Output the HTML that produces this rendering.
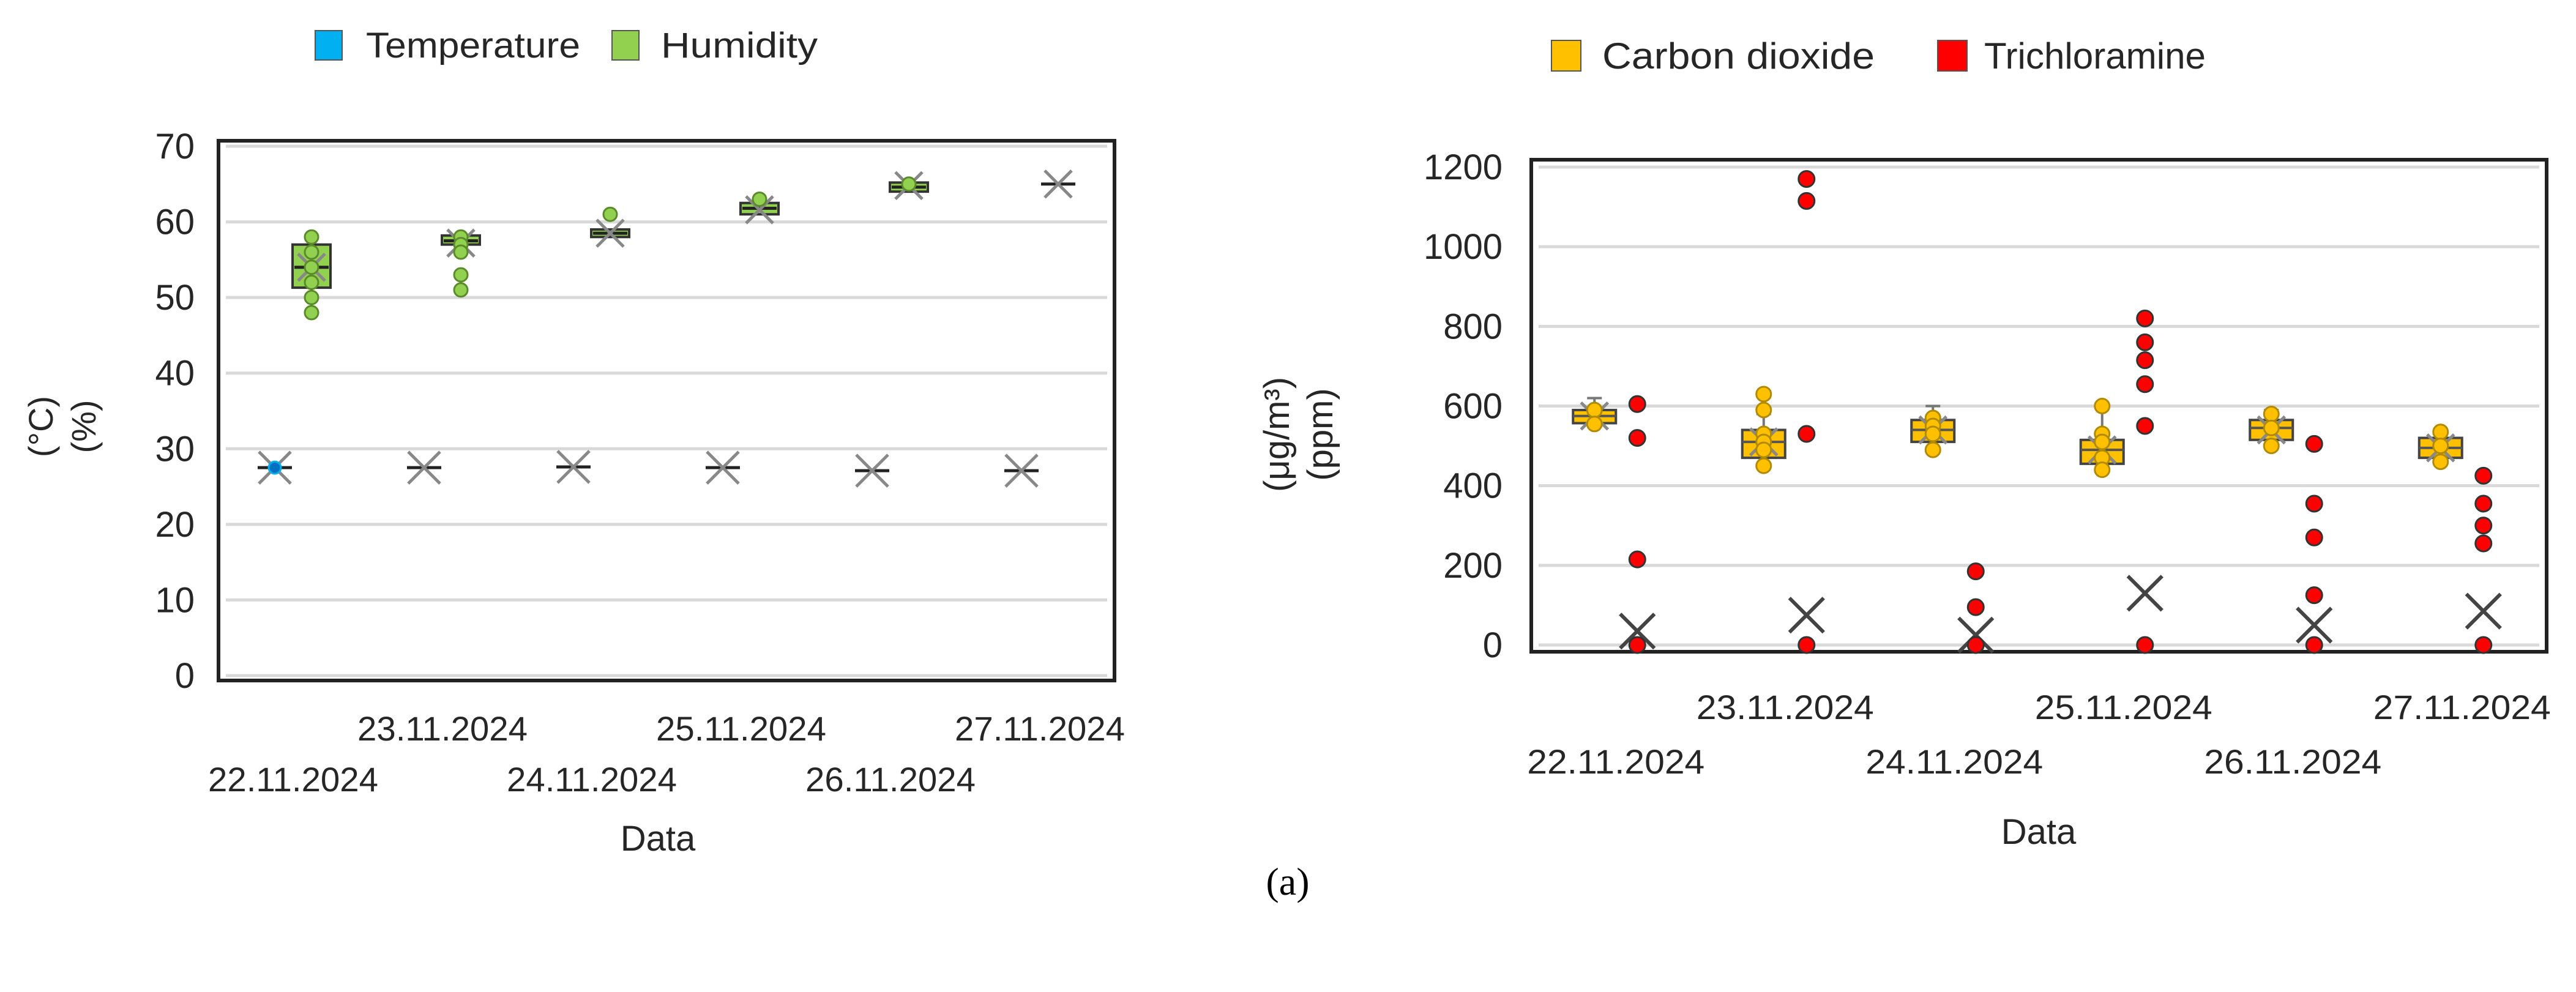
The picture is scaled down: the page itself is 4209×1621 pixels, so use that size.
<!DOCTYPE html>
<html><head><meta charset="utf-8"><style>
html,body{margin:0;padding:0;background:#fff}
svg{display:block}
text{font-family:"Liberation Sans",sans-serif;fill:#262626}
</style></head><body>
<svg id="fig" width="4209" height="1621" viewBox="0 0 4209 1621" xmlns="http://www.w3.org/2000/svg">
<g>
<rect x="515" y="50" width="44" height="48" fill="#00B0F0" stroke="#555" stroke-width="2"/>
<text x="598" y="94" font-size="58" textLength="350" lengthAdjust="spacingAndGlyphs">Temperature</text>
<rect x="1000" y="50" width="44" height="48" fill="#92D050" stroke="#555" stroke-width="2"/>
<text x="1080" y="94" font-size="58" textLength="256" lengthAdjust="spacingAndGlyphs">Humidity</text>
</g>
<g>
<rect x="2535" y="66" width="48" height="50" fill="#FFC000" stroke="#555" stroke-width="2"/>
<text x="2618" y="112" font-size="60" textLength="445" lengthAdjust="spacingAndGlyphs">Carbon dioxide</text>
<rect x="3166" y="66" width="48" height="50" fill="#FF0000" stroke="#555" stroke-width="2"/>
<text x="3242" y="112" font-size="60" textLength="362" lengthAdjust="spacingAndGlyphs">Trichloramine</text>
</g>
<text transform="translate(86,697) rotate(-90)" text-anchor="middle" font-size="56">(°C)</text>
<text transform="translate(156,697) rotate(-90)" text-anchor="middle" font-size="56">(%)</text>
<text transform="translate(2106,710) rotate(-90)" text-anchor="middle" font-size="58">(μg/m³)</text>
<text transform="translate(2177,710) rotate(-90)" text-anchor="middle" font-size="58">(ppm)</text>
<text x="1075" y="1390" text-anchor="middle" font-size="58">Data</text>
<text x="3331" y="1379" text-anchor="middle" font-size="58">Data</text>
<text x="2104" y="1462" text-anchor="middle" font-size="64" style="font-family:'Liberation Serif',serif;fill:#000">(a)</text>
</svg>
<script>
// ---- data ----
const dates = ["22.11.2024","23.11.2024","24.11.2024","25.11.2024","26.11.2024","27.11.2024"];
const leftTicks = [0,10,20,30,40,50,60,70];
const rightTicks = [0,200,400,600,800,1000,1200];
const tempMean = [27.5,27.5,27.6,27.5,27.1,27.1];
const tempPoints = [[27.5],[],[],[],[],[]];
const humQ1 = [51.3,57,58,61,64,65];
const humMed = [54,57.5,58.5,61.8,64.6,65];
const humQ3 = [57,58.2,59,62.5,65.2,65];
const humMin = [48,57,58,61,64,65];
const humMax = [58,58.2,59,62.5,65.2,65];
const humMean = [54,57.2,58.5,61.6,64.8,65];
const humPoints = [[58,56,54,52,50,48],[58,57,56,53,51],[61],[63],[65],[]];
const co2Q1 = [557,470,510,455,515,470];
const co2Med = [575,510,540,490,545,495];
const co2Q3 = [590,540,565,515,565,520];
const co2Min = [545,450,490,440,495,460];
const co2Max = [620,580,600,600,590,540];
const co2Mean = [575,510,540,490,540,495];
const co2Points = [[590,555],[630,590,530,510,490,450],[570,550,530,490],[600,530,510,470,440],[580,545,500],[535,500,460]];
const tcaMean = [35,75,25,130,50,85];
const tcaPoints = [[605,520,215,0],[1170,1115,530,0],[185,95,0],[820,760,715,655,550,0],[505,355,270,125,0],[425,355,300,255,0]];

const NS = "http://www.w3.org/2000/svg";
const svg = document.getElementById('fig');
function mk(tag, attrs, parent){const e=document.createElementNS(NS,tag);for(const k in attrs)e.setAttribute(k,attrs[k]);(parent||svg).appendChild(e);return e;}

function panel(cfg){
  const {x0,x1,y0,y1,vmin,vmax,gTop,gBot,ticks,name,labelRight,row1,row2,fs,lw} = cfg;
  const ys = v => gBot - (v - vmin)/(vmax - vmin)*(gBot - gTop);
  const slot = (x1-x0)/dates.length;
  const xs = i => x0 + slot*(i+0.5);
  const g = mk('g',{});
  
  
  ticks.forEach(t=>{
    const l = mk('line',{x1:x0+12,x2:x1-12,y1:ys(t),y2:ys(t),stroke:'#d9d9d9','stroke-width':5},g);
    
    
    const tx = mk('text',{x:labelRight,y:ys(t)+20,'text-anchor':'end','font-size':fs},g);
    tx.textContent = t;
    
    
  });
  const fr = mk('rect',{x:x0,y:y0,width:x1-x0,height:y1-y0,fill:'none',stroke:'#222','stroke-width':6},g);
  
  
  dates.forEach((d,i)=>{
    const tx = mk('text',{x:xs(i),y:i%2===0?row2:row1,'text-anchor':'middle','font-size':56,textLength:lw,lengthAdjust:'spacingAndGlyphs'},g);
    tx.textContent = d;
    
    
  });
  return {g,ys,xs};
}
function xMark(g,cx,cy,s,name,bold){
  const m = mk('g',{},g);
  
  
  const c = bold?'#444':'#888';
  mk('line',{x1:cx-s,y1:cy-s,x2:cx+s,y2:cy+s,stroke:c,'stroke-width':bold?6:5},m);
  mk('line',{x1:cx-s,y1:cy+s,x2:cx+s,y2:cy-s,stroke:c,'stroke-width':bold?6:5},m);
}
// ---- left panel ----
const L = panel({x0:357,x1:1821,y0:230,y1:1112,vmin:0,vmax:70,gTop:239,gBot:1104,ticks:leftTicks,name:'left',labelRight:318,row1:1210,row2:1293,fs:58,lw:278});
dates.forEach((d,i)=>{
  const cx = L.xs(i)-30;
  const grp = mk('g',{},L.g);
  
  
  mk('line',{x1:cx-28,x2:cx+28,y1:L.ys(tempMean[i]),y2:L.ys(tempMean[i]),stroke:'#222','stroke-width':5},grp);
  xMark(grp,cx,L.ys(tempMean[i]),26,'temperature-mean-'+(i+1),false);
  tempPoints[i].forEach(v=>{
    const c = mk('circle',{cx:cx,cy:L.ys(v),r:10,fill:'#0070C0',stroke:'#00B0F0','stroke-width':3},grp);
    
    
  });
});
dates.forEach((d,i)=>{
  const cx = L.xs(i)+30;
  const grp = mk('g',{},L.g);
  
  
  if(humMax[i]>humMin[i]) mk('line',{x1:cx,x2:cx,y1:L.ys(humMax[i]),y2:L.ys(humMin[i]),stroke:'#555','stroke-width':4},grp);
  if(humQ3[i]>humQ1[i]) mk('rect',{x:cx-31,y:L.ys(humQ3[i]),width:62,height:L.ys(humQ1[i])-L.ys(humQ3[i]),fill:'#92D050',stroke:'#333','stroke-width':4},grp);
  mk('line',{x1:cx-28,x2:cx+28,y1:L.ys(humMed[i]),y2:L.ys(humMed[i]),stroke:'#222','stroke-width':5},grp);
  xMark(grp,cx,L.ys(humMean[i]),22,'humidity-mean-'+(i+1),false);
  humPoints[i].forEach(v=>{
    const c = mk('circle',{cx:cx,cy:L.ys(v),r:11,fill:'#92D050',stroke:'#5a8a2a','stroke-width':3},grp);
    
    
  });
});
// ---- right panel ----
const R = panel({x0:2502,x1:4161,y0:261,y1:1065,vmin:0,vmax:1200,gTop:273,gBot:1054,ticks:rightTicks,name:'right',labelRight:2455,row1:1175,row2:1264,fs:58,lw:290});
dates.forEach((d,i)=>{
  const cx = R.xs(i)-35;
  const grp = mk('g',{},R.g);
  
  
  mk('line',{x1:cx,x2:cx,y1:R.ys(co2Max[i]),y2:R.ys(co2Min[i]),stroke:'#777','stroke-width':4},grp);
  mk('line',{x1:cx-12,x2:cx+12,y1:R.ys(co2Max[i]),y2:R.ys(co2Max[i]),stroke:'#777','stroke-width':4},grp);
  mk('rect',{x:cx-35,y:R.ys(co2Q3[i]),width:70,height:R.ys(co2Q1[i])-R.ys(co2Q3[i]),fill:'#FFC000',stroke:'#444','stroke-width':4},grp);
  mk('line',{x1:cx-35,x2:cx+35,y1:R.ys(co2Med[i]),y2:R.ys(co2Med[i]),stroke:'#555','stroke-width':4},grp);
  xMark(grp,cx,R.ys(co2Mean[i]),22,'co2-mean-'+(i+1),false);
  co2Points[i].forEach(v=>{
    const c = mk('circle',{cx:cx,cy:R.ys(v),r:12,fill:'#FFC000',stroke:'#b08a00','stroke-width':3},grp);
    
    
  });
});
dates.forEach((d,i)=>{
  const cx = R.xs(i)+35;
  const grp = mk('g',{},R.g);
  
  
  xMark(grp,cx,R.ys(tcaMean[i]),28,'trichloramine-mean-'+(i+1),true);
  tcaPoints[i].forEach(v=>{
    const c = mk('circle',{cx:cx,cy:R.ys(v),r:13,fill:'#FF0000',stroke:'#333','stroke-width':3},grp);
    
    
  });
});
</script>
</body></html>
